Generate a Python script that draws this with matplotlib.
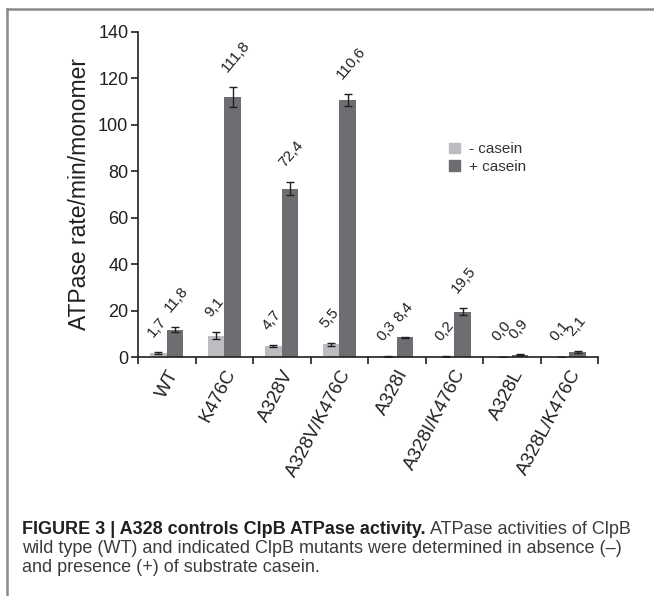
import matplotlib
matplotlib.use("Agg")
import matplotlib.pyplot as plt
import numpy as np
from matplotlib.lines import Line2D
from matplotlib.patches import Patch

plt.rcParams['font.family'] = ['Liberation Sans', 'DejaVu Sans']

# data
mutants = ["WT", "K476C", "A328V", "A328V/K476C", "A328I", "A328I/K476C", "A328L", "A328L/K476C"]
minus_casein = [1.7, 9.1, 4.7, 5.5, 0.3, 0.2, 0.0, 0.1]
minus_err = [0.3, 1.5, 0.4, 0.6, 0.1, 0.1, 0.2, 0.1]
plus_casein = [11.8, 111.8, 72.4, 110.6, 8.4, 19.5, 0.9, 2.1]
plus_err = [1.0, 4.3, 2.8, 2.6, 0.3, 1.5, 0.2, 0.3]
series_labels = ["- casein", "+ casein"]

light = "#bcbdc0"
dark = "#6d6e71"
ink = "#231f20"

W, H = 654, 596
fig = plt.figure(figsize=(W / 100, H / 100), dpi=100)
ax = fig.add_axes([138 / W, 1 - 357 / H, 460 / W, 325.3 / H])

x = np.arange(len(mutants))
bw = 0.29
ax.bar(x - bw / 2, minus_casein, bw, color=light, yerr=minus_err,
       error_kw=dict(ecolor=ink, elinewidth=1, capsize=3, capthick=1))
ax.bar(x + bw / 2, plus_casein, bw, color=dark, yerr=plus_err,
       error_kw=dict(ecolor=ink, elinewidth=1, capsize=3, capthick=1))

# rotated value labels
def fmt(v):
    return f"{v:.1f}".replace(".", ",")

for xi, v, e in zip(x - bw / 2, minus_casein, minus_err):
    ax.annotate(fmt(v), xy=(xi, v + e), xytext=(-2, 9), textcoords="offset points",
                rotation=50, rotation_mode="anchor", ha="left", va="bottom",
                fontsize=11, color=ink)
for xi, v, e in zip(x + bw / 2, plus_casein, plus_err):
    ax.annotate(fmt(v), xy=(xi, v + e), xytext=(-2, 9), textcoords="offset points",
                rotation=50, rotation_mode="anchor", ha="left", va="bottom",
                fontsize=11, color=ink)

ax.set_xlim(-0.5, len(mutants) - 0.5)
ax.set_ylim(0, 140)
ax.set_yticks(np.arange(0, 141, 20))
ax.set_xticks(x)
ax.set_xticklabels(mutants, rotation=62, ha="right", rotation_mode="anchor", fontsize=13.5, color=ink)
ax.set_xticks(np.arange(-0.5, len(mutants)), minor=True)
ax.tick_params(axis="x", which="major", length=0, pad=7)
ax.tick_params(axis="x", which="minor", length=5, width=1.2, color=ink, direction="out")
ax.tick_params(axis="y", length=5, width=1.2, color=ink, labelsize=13, labelcolor=ink, pad=2)
ax.set_ylabel("ATPase rate/min/monomer", fontsize=16.5, color=ink, labelpad=5)

for s in ["top", "right"]:
    ax.spines[s].set_visible(False)
for s in ["left", "bottom"]:
    ax.spines[s].set_linewidth(1.2)
    ax.spines[s].set_color(ink)

handles = [Patch(color=light), Patch(color=dark)]
ax.legend(handles, series_labels, loc="upper left", bbox_to_anchor=(0.676, 0.66),
          frameon=False, fontsize=11, handlelength=0.7, handleheight=0.7,
          handletextpad=0.6, labelspacing=0.25, borderpad=0, borderaxespad=0,
          labelcolor="#333333")

# frame around the figure panel
fig.add_artist(Line2D([7 / W, 1], [1 - 9 / H, 1 - 9 / H], transform=fig.transFigure,
                      color="#8a8a8a", lw=1.8))
fig.add_artist(Line2D([7 / W, 7 / W], [0, 1 - 9 / H], transform=fig.transFigure,
                      color="#8a8a8a", lw=1.8))

# caption
cap_size = 13
y1 = 1 - 534 / H
t_bold = fig.text(22 / W, y1, "FIGURE 3 | A328 controls ClpB ATPase activity.",
                  fontsize=cap_size, fontweight="bold", color=ink, va="baseline")
fig.canvas.draw()
bb = t_bold.get_window_extent(renderer=fig.canvas.get_renderer())
fig.text((bb.x1 + 4) / W, y1, "ATPase activities of ClpB",
         fontsize=cap_size, color="#3c3c3c", va="baseline")
fig.text(22 / W, 1 - 553 / H,
         "wild type (WT) and indicated ClpB mutants were determined in absence (\u2013)",
         fontsize=cap_size, color="#3c3c3c", va="baseline")
fig.text(22 / W, 1 - 572 / H, "and presence (+) of substrate casein.",
         fontsize=cap_size, color="#3c3c3c", va="baseline")

fig.savefig("out.png", dpi=100)
